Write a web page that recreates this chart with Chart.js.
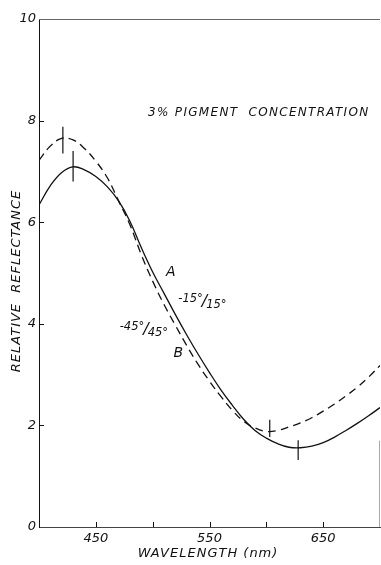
<!DOCTYPE html>
<html>
<head>
<meta charset="utf-8">
<script src="https://cdn.jsdelivr.net/npm/chart.js@4"></script>
<style>
  html, body { margin: 0; padding: 0; background: #fff; }
  #wrap { width: 381px; height: 565px; }
</style>
</head>
<body>
<div id="wrap"><canvas id="chart" width="381" height="565"></canvas></div>
<script>
// wavelength (nm)
const wavelengths = [400, 410, 420, 430, 440, 450, 460, 470, 480, 490, 500, 510, 520, 530, 540, 550,
                     560, 570, 580, 590, 600, 610, 620, 630, 640, 650, 660, 670, 680, 690, 700];
// curve A, -15°/15° (solid)
const reflA = [6.34, 6.72, 6.98, 7.09, 7.03, 6.9, 6.7, 6.42, 6.02, 5.5, 5.02, 4.6, 4.18, 3.78, 3.4, 3.04,
               2.7, 2.4, 2.12, 1.9, 1.75, 1.64, 1.57, 1.56, 1.59, 1.66, 1.77, 1.9, 2.04, 2.19, 2.35];
// curve B, -45°/45° (dashed)
const reflB = [7.22, 7.5, 7.65, 7.62, 7.45, 7.2, 6.88, 6.42, 5.95, 5.36, 4.84, 4.38, 3.97, 3.57, 3.2, 2.87,
               2.57, 2.3, 2.08, 1.95, 1.88, 1.9, 1.97, 2.05, 2.15, 2.28, 2.42, 2.58, 2.75, 2.95, 3.18];
// vertical bars at peaks and minima: [wavelength, low, high]
const barsA = [[430, 6.8, 7.4], [628, 1.32, 1.71]];
const barsB = [[421, 7.35, 7.88], [603, 1.77, 2.11]];
const xTicks = [450, 500, 550, 600, 650];
const xTickLabels = ['450', '', '550', '', '650'];
const yTicks = [0, 2, 4, 6, 8, 10];

const FONT = '"DejaVu Sans", sans-serif';

function toPoints(ys) {
    return wavelengths.map((x, i) => ({ x: x, y: ys[i] }));
}

function barSets(bars) {
    return bars.map(b => ({
        data: [{ x: b[0], y: b[1] }, { x: b[0], y: b[2] }],
        borderColor: '#111',
        borderWidth: 1.2,
        pointRadius: 0,
        tension: 0
    }));
}

const overlay = {
    id: 'overlay',
    afterDraw(chart) {
        const { ctx, chartArea: a, scales: { x, y } } = chart;
        ctx.save();
        ctx.strokeStyle = '#111';
        ctx.lineWidth = 1;
        // inward ticks
        ctx.beginPath();
        xTicks.forEach(v => {
            const px = Math.round(x.getPixelForValue(v)) + 0.5;
            ctx.moveTo(px, a.bottom);
            ctx.lineTo(px, a.bottom - 5);
        });
        yTicks.slice(1, 5).forEach(v => {
            const py = Math.round(y.getPixelForValue(v)) + 0.5;
            ctx.moveTo(a.left, py);
            ctx.lineTo(a.left + 5, py);
        });
        ctx.stroke();
        // top frame line
        ctx.strokeStyle = '#666';
        ctx.beginPath();
        ctx.moveTo(a.left, Math.round(a.top) + 0.5);
        ctx.lineTo(a.right, Math.round(a.top) + 0.5);
        ctx.stroke();

        ctx.fillStyle = '#111';
        ctx.textBaseline = 'middle';
        // axis titles
        ctx.font = 'oblique 13px ' + FONT;
        ctx.letterSpacing = '1px';
        ctx.textAlign = 'center';
        ctx.fillText('WAVELENGTH (nm)', 208, 554);
        ctx.save();
        ctx.translate(17, 281);
        ctx.rotate(-Math.PI / 2);
        ctx.fillText('RELATIVE  REFLECTANCE', 0, 0);
        ctx.restore();

        // annotations
        ctx.textAlign = 'left';
        ctx.font = 'oblique 12px ' + FONT;
        ctx.letterSpacing = '1.3px';
        ctx.fillText('3% PIGMENT  CONCENTRATION', x.getPixelForValue(496), y.getPixelForValue(8.15));
        ctx.letterSpacing = '0px';
        ctx.font = 'oblique 14px ' + FONT;
        ctx.textAlign = 'center';
        ctx.fillText('A', x.getPixelForValue(516), y.getPixelForValue(5.02));
        ctx.fillText('B', x.getPixelForValue(522.5), y.getPixelForValue(3.41));

        function fraction(top, bottom, nm, val) {
            let px = x.getPixelForValue(nm);
            const py = y.getPixelForValue(val);
            ctx.textAlign = 'left';
            ctx.font = 'oblique 11.5px ' + FONT;
            ctx.fillText(top, px, py - 3);
            px += ctx.measureText(top).width - 1;
            ctx.font = 'oblique 16px ' + FONT;
            ctx.fillText('/', px, py);
            px += ctx.measureText('/').width - 1;
            ctx.font = 'oblique 11.5px ' + FONT;
            ctx.fillText(bottom, px, py + 3);
        }
        fraction('-15°', '15°', 522.5, 4.43);
        fraction('-45°', '45°', 471, 3.88);
        ctx.restore();
    }
};

new Chart(document.getElementById('chart'), {
    type: 'line',
    data: {
        datasets: [
            {
                data: toPoints(reflA),
                borderColor: '#111',
                borderWidth: 1.3,
                pointRadius: 0,
                tension: 0.4
            },
            {
                data: toPoints(reflB),
                borderColor: '#111',
                borderWidth: 1.3,
                borderDash: [8, 5],
                pointRadius: 0,
                tension: 0.4
            },
            ...barSets(barsA),
            ...barSets(barsB),
            {
                // short stretch of the right frame
                data: [{ x: 700, y: 0 }, { x: 700, y: 1.7 }],
                borderColor: '#555',
                borderWidth: 1,
                pointRadius: 0
            }
        ]
    },
    options: {
        responsive: false,
        animation: false,
        layout: { padding: { top: 19, right: 1, left: 0, bottom: 0 } },
        plugins: { legend: { display: false }, tooltip: { enabled: false } },
        scales: {
            x: {
                type: 'linear',
                min: 400,
                max: 700,
                border: { color: '#444', width: 1 },
                grid: { display: false, drawTicks: false },
                afterBuildTicks: s => { s.ticks = xTicks.map(v => ({ value: v })); },
                afterFit: s => { s.height = 38; },
                ticks: {
                    color: '#111',
                    padding: 4,
                    maxRotation: 0,
                    font: { family: FONT, size: 13, style: 'oblique' },
                    callback: v => xTickLabels[xTicks.indexOf(v)]
                }
            },
            y: {
                min: 0,
                max: 10,
                border: { color: '#111', width: 1 },
                grid: { display: false, drawTicks: false },
                afterBuildTicks: s => { s.ticks = yTicks.map(v => ({ value: v })); },
                afterFit: s => { s.width = 39; },
                ticks: {
                    color: '#111',
                    padding: 3,
                    font: { family: FONT, size: 13, style: 'oblique' }
                }
            }
        }
    },
    plugins: [overlay]
});
</script>
</body>
</html>
